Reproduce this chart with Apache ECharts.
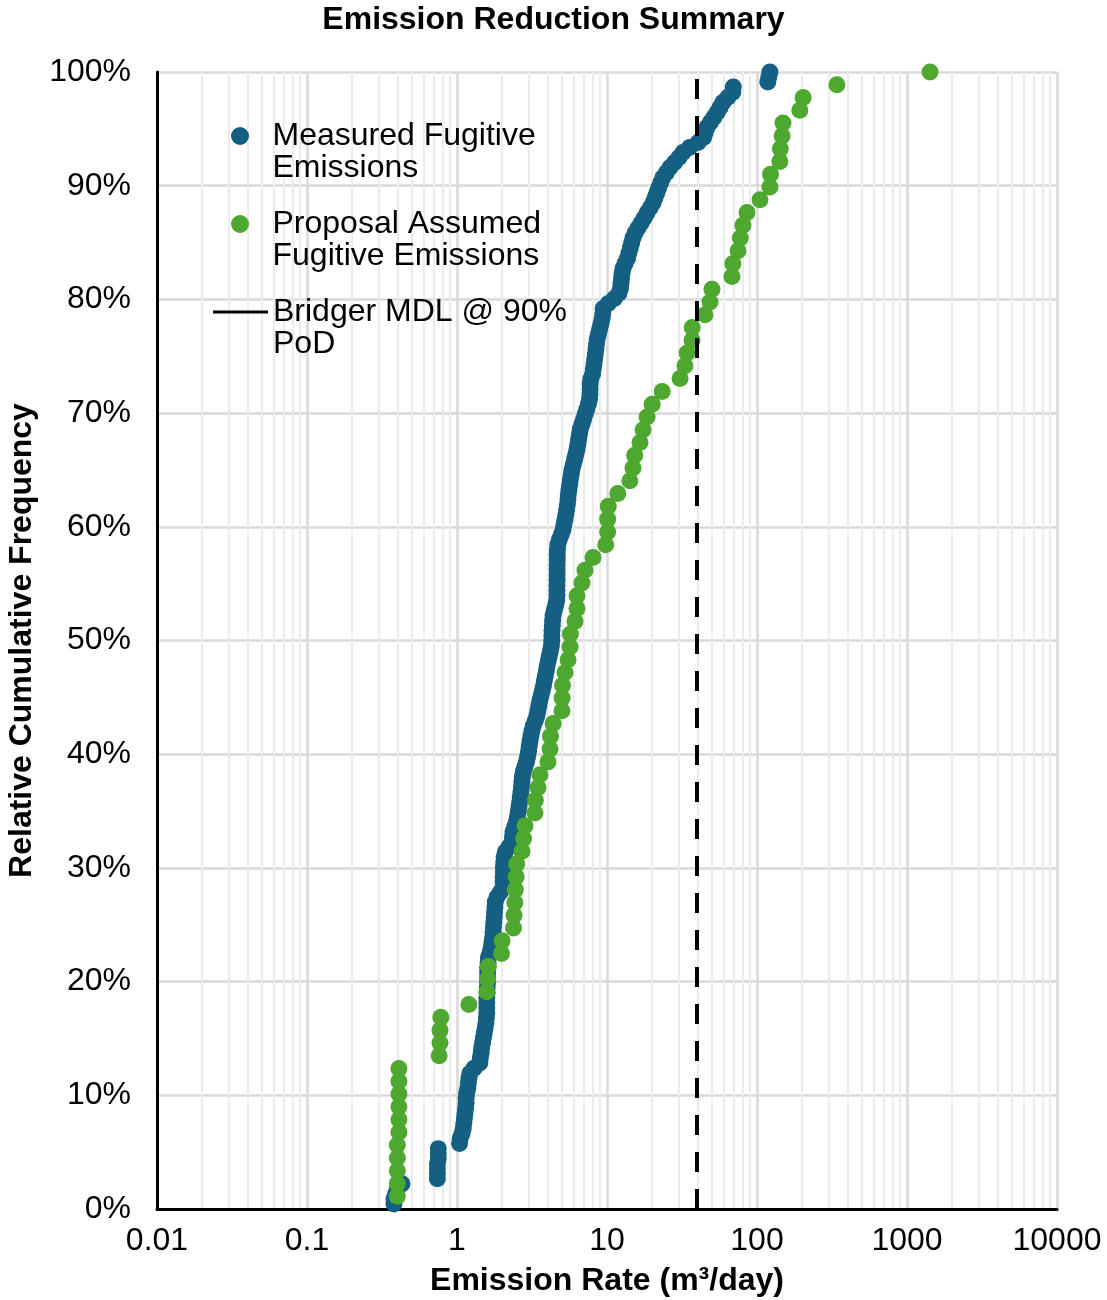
<!DOCTYPE html>
<html>
<head>
<meta charset="utf-8">
<script src="https://cdn.jsdelivr.net/npm/echarts@6/dist/echarts.min.js"></script>
<style>
html,body{margin:0;padding:0;background:#fff;}
#chart{width:1107px;height:1300px;}
</style>
</head>
<body>
<div id="chart"></div>
<script>
// ---- Data (emission rates in m3/day, sorted ascending; cumulative frequency = rank / count) ----
const measuredRates = [
  0.38, 0.38, 0.39, 0.40, 0.43, 0.74, 0.74, 0.74, 0.74, 0.75, 0.75, 0.75,
  1.04, 1.05, 1.08, 1.10, 1.11, 1.12, 1.13, 1.14, 1.15, 1.15, 1.16, 1.18, 1.19, 1.20, 1.22, 1.30,
  1.42, 1.43, 1.45, 1.46, 1.48, 1.50, 1.52, 1.54, 1.56, 1.57, 1.58, 1.58, 1.58, 1.58, 1.59, 1.59,
  1.60, 1.60, 1.60, 1.60, 1.61, 1.62, 1.66, 1.69, 1.71, 1.73, 1.74, 1.75, 1.76, 1.77, 1.78, 1.79,
  1.80, 1.85, 1.95, 2.03, 2.03, 2.03, 2.04, 2.04, 2.05, 2.06, 2.10, 2.22, 2.33, 2.34, 2.36, 2.42,
  2.49, 2.53, 2.56, 2.59, 2.62, 2.64, 2.67, 2.69, 2.71, 2.73, 2.77, 2.84, 2.91, 2.96, 3.00, 3.03,
  3.07, 3.11, 3.16, 3.22, 3.32, 3.41, 3.46, 3.51, 3.56, 3.63, 3.70, 3.77, 3.82, 3.88, 3.94, 3.99,
  4.06, 4.13, 4.20, 4.26, 4.28, 4.29, 4.30, 4.32, 4.34, 4.37, 4.45, 4.55, 4.62, 4.64, 4.64, 4.64,
  4.65, 4.65, 4.65, 4.65, 4.66, 4.66, 4.67, 4.70, 4.80, 4.95, 5.09, 5.16, 5.24, 5.31, 5.38, 5.44,
  5.49, 5.52, 5.58, 5.64, 5.70, 5.77, 5.84, 5.96, 6.08, 6.20, 6.31, 6.39, 6.47, 6.55, 6.63, 6.80,
  6.98, 7.16, 7.34, 7.52, 7.65, 7.70, 7.71, 7.72, 7.80, 8.02, 8.10, 8.20, 8.28, 8.36, 8.44, 8.52,
  8.60, 8.78, 8.95, 9.12, 9.28, 9.38, 9.42, 10.2, 11.2, 12.0, 12.3, 12.4, 12.5, 12.6, 12.8, 13.2,
  13.7, 14.0, 14.3, 14.6, 14.9, 15.4, 16.1, 16.9, 17.7, 18.5, 19.4, 20.3, 20.9, 21.5, 22.1, 22.8,
  23.5, 24.9, 26.3, 28.2, 30.2, 32.1, 35.5, 40.5, 44.0, 45.2, 46.4, 48.9, 51.6, 54.3, 56.8, 59.3,
  64.0, 69.0, 69.5, 118, 120, 122
];
const proposalRates = [
  0.40, 0.40, 0.40, 0.40, 0.40, 0.41, 0.41, 0.41, 0.41, 0.41, 0.41,
  0.76, 0.77, 0.77, 0.78,
  1.20,
  1.58, 1.60, 1.62,
  1.98, 2.00,
  2.38, 2.40, 2.43, 2.45, 2.48, 2.50,
  2.71, 2.78, 2.84,
  3.31, 3.33, 3.47, 3.57,
  4.04, 4.17, 4.20, 4.37,
  5.01, 5.02, 5.05,
  5.25, 5.50, 5.67, 5.70, 6.12, 6.31, 6.31, 6.81, 7.13, 8.07, 9.8, 10.1, 10.1, 10.2, 11.8,
  14.2, 14.9, 15.3, 16.6, 17.4, 18.5, 20.0, 23.3, 30.7, 33.1, 34.2, 36.9, 37.0, 45.0, 48.6, 50.1,
  68.1, 69.0, 74.7, 77.4, 80.6, 85.8, 104.7, 122, 123, 142, 143, 147, 149, 193, 203, 341, 1424
];
const mdlRate = 39.5;           // Bridger MDL @ 90% PoD
const xTickLabels = ['0.01', '0.1', '1', '10', '100', '1000', '10000'];
const yTickLabels = ['0%', '10%', '20%', '30%', '40%', '50%', '60%', '70%', '80%', '90%', '100%'];
const seriesNames = ['Measured Fugitive Emissions', 'Proposal Assumed Fugitive Emissions', 'Bridger MDL @ 90% PoD'];
const legendLines = [
  ['Measured Fugitive', 'Emissions'],
  ['Proposal Assumed', 'Fugitive Emissions'],
  ['Bridger MDL @ 90%', 'PoD']
];

// ---- Build ----
function ecdf(rates) {
  return rates.map((v, i) => [v, (i + 1) / rates.length * 100]);
}
const minorGrid = [];
for (let d = -2; d <= 3; d++) {
  for (let m = 2; m <= 9; m++) minorGrid.push({ xAxis: m * Math.pow(10, d) });
}

const FONT = '"Liberation Sans", Arial, Helvetica, sans-serif';
const FS = 32;
const chart = echarts.init(document.getElementById('chart'), null, { renderer: 'canvas' });

function legendFor(idx, left, top) {
  const item = idx === 2
    ? {
        name: seriesNames[idx],
        icon: 'path://M0,0 H55 V3 H0 Z',
        itemStyle: { color: '#000', borderWidth: 0, borderColor: '#000', borderType: 'solid' },
        lineStyle: { type: 'solid', width: 3, color: '#000' }
      }
    : { name: seriesNames[idx], icon: 'circle' };
  return {
    data: [item],
    orient: 'vertical',
    left: left,
    top: top,
    padding: 0,
    itemWidth: 55,
    itemHeight: 18,
    selectedMode: false,
    // leading empty line keeps the first text line level with the icon
    formatter: () => '\n' + legendLines[idx].join('\n'),
    textStyle: { fontFamily: FONT, fontSize: FS, color: '#000', lineHeight: 32 }
  };
}

const option = {
  backgroundColor: '#fff',
  animation: false,
  title: {
    text: 'Emission Reduction Summary',
    left: 'center',
    top: 4,
    padding: 0,
    textStyle: { fontFamily: FONT, fontSize: FS, fontWeight: 'bold', color: '#000' }
  },
  legend: [legendFor(0, 231, 88), legendFor(1, 231, 176), legendFor(2, 213, 264)],
  grid: { left: 157, right: 50, top: 72, bottom: 91, containLabel: false, outerBoundsMode: 'none' },
  xAxis: {
    type: 'log',
    logBase: 10,
    min: 0.01,
    max: 10000,
    name: 'Emission Rate (m³/day)',
    nameLocation: 'middle',
    nameGap: 56,
    nameTextStyle: { fontFamily: FONT, fontSize: FS, fontWeight: 'bold', color: '#000' },
    axisLine: { show: true, lineStyle: { color: '#000', width: 3 } },
    axisTick: { show: false },
    axisLabel: {
      fontFamily: FONT, fontSize: FS, color: '#000', margin: 16,
      formatter: (v) => xTickLabels[Math.round(Math.log10(v)) + 2]
    },
    splitLine: { show: true, lineStyle: { color: '#d9d9d9', width: 2.5 } }
  },
  yAxis: {
    type: 'value',
    min: 0,
    max: 100,
    interval: 10,
    name: 'Relative Cumulative Frequency',
    nameLocation: 'middle',
    nameGap: 117,
    nameRotate: 90,
    nameTextStyle: { fontFamily: FONT, fontSize: FS, fontWeight: 'bold', color: '#000' },
    axisLine: { show: true, lineStyle: { color: '#000', width: 3 } },
    axisTick: { show: false },
    axisLabel: {
      fontFamily: FONT, fontSize: FS, color: '#000', margin: 26,
      formatter: (v) => yTickLabels[Math.round(v / 10)]
    },
    splitLine: { show: true, lineStyle: { color: '#d9d9d9', width: 2.5 } }
  },
  series: [
    {
      name: 'minor-grid',
      type: 'line',
      data: [],
      silent: true,
      z: 0,
      markLine: {
        silent: true,
        z: 0,
        symbol: 'none',
        label: { show: false },
        emphasis: { disabled: true },
        lineStyle: { color: '#ececec', width: 2, type: 'solid' },
        animation: false,
        data: minorGrid
      }
    },
    {
      name: seriesNames[0],
      type: 'scatter',
      data: ecdf(measuredRates),
      symbol: 'circle',
      symbolSize: 17,
      clip: false,
      z: 3,
      itemStyle: { color: '#156082', opacity: 1, borderWidth: 0 }
    },
    {
      name: seriesNames[1],
      type: 'scatter',
      data: ecdf(proposalRates),
      symbol: 'circle',
      symbolSize: 17,
      clip: false,
      z: 4,
      itemStyle: { color: '#4EA72E', opacity: 1, borderWidth: 0 }
    },
    {
      name: seriesNames[2],
      type: 'line',
      data: [],
      symbol: 'none',
      showSymbol: false,
      z: 5,
      color: '#000',
      lineStyle: { color: '#000', width: 3, type: 'solid' },
      markLine: {
        silent: true,
        z: 6,
        symbol: 'none',
        label: { show: false },
        emphasis: { disabled: true },
        animation: false,
        lineStyle: { color: '#000', width: 4, type: [20, 17] },
        data: [{ xAxis: mdlRate }]
      }
    }
  ]
};
chart.setOption(option);
</script>
</body>
</html>
